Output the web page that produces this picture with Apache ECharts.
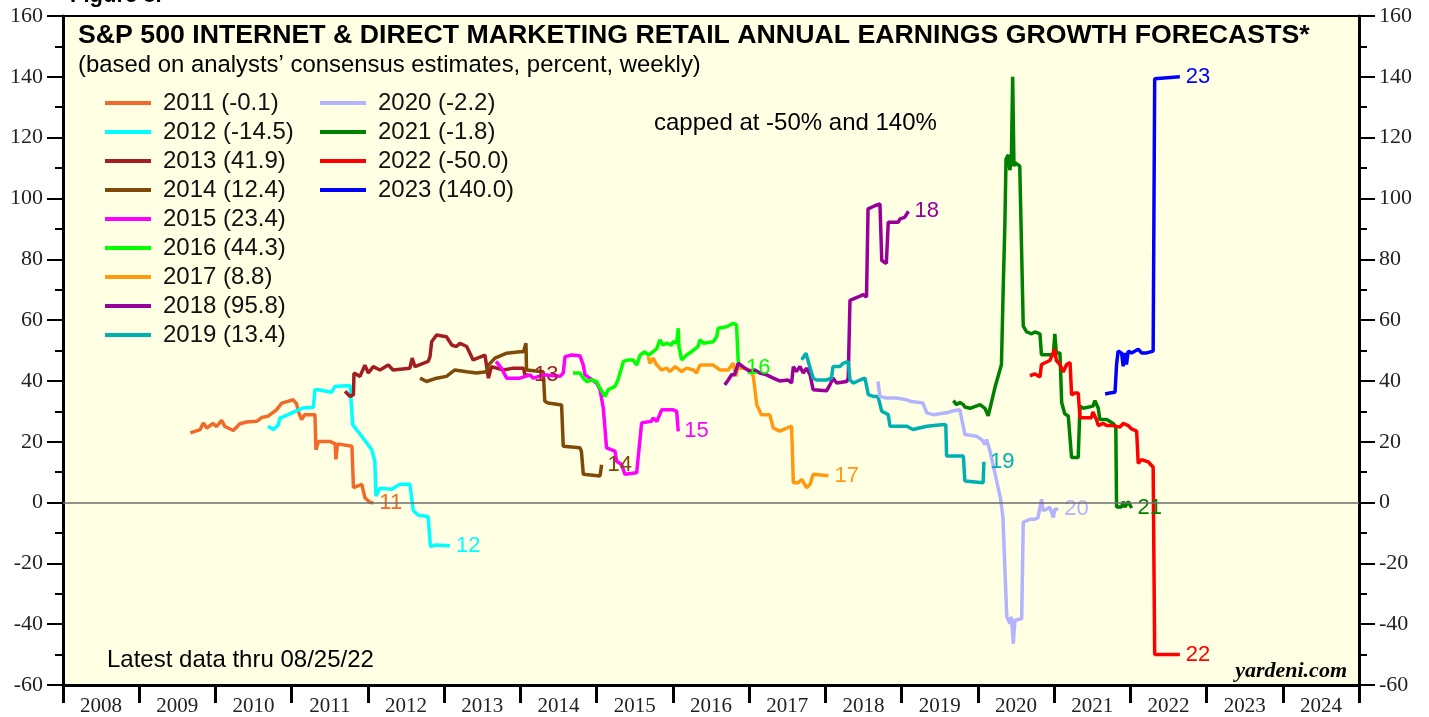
<!DOCTYPE html>
<html>
<head>
<meta charset="utf-8">
<script src="https://cdn.jsdelivr.net/npm/echarts@6/dist/echarts.min.js"></script>
<style>
  html, body { margin: 0; padding: 0; background: #fff; }
  #chart { width: 1429px; height: 717px; }
</style>
</head>
<body>
<div id="chart"></div>
<script>
// year axis labels (centred between the year ticks)
const years = ['2008','2009','2010','2011','2012','2013','2014','2015','2016','2017','2018','2019','2020','2021','2022','2023','2024']

// forecast years and latest value shown in the legend
const seriesNames = ['2011','2012','2013','2014','2015','2016','2017','2018','2019','2020','2021','2022','2023']
const finalValues = ['-0.1','-14.5','41.9','12.4','23.4','44.3','8.8','95.8','13.4','-2.2','-1.8','-50.0','140.0']
const colors = ['#f26a2a','#00ffff','#a31e22','#7f4a08','#ff00ff','#00ff00','#ff9a10','#990099','#00b0b0','#b3b3ff','#008000','#ff0000','#0000ff']

// weekly forecasts, [decimal year, percent]
const s2011 = [[2009.67,22.9],[2009.80,24.0],[2009.84,26.2],[2009.885,24.5],[2009.967,26.0],[2010.016,25.0],[2010.08,27.0],[2010.125,25.0],[2010.234,23.7],[2010.32,25.9],[2010.41,26.5],[2010.54,26.7],[2010.61,28.0],[2010.69,28.4],[2010.80,30.5],[2010.87,32.7],[2011.02,33.8],[2011.065,32.4],[2011.086,30.0],[2011.13,27.3],[2011.17,28.9],[2011.305,28.9],[2011.318,17.4],[2011.35,20.1],[2011.50,20.1],[2011.57,19.3],[2011.58,14.2],[2011.60,19.3],[2011.79,18.5],[2011.81,4.9],[2011.92,6.0],[2011.96,1.6],[2012.03,0.0],[2012.07,-0.1]]
const s2012 = [[2010.69,25.1],[2010.76,24.0],[2010.824,25.6],[2010.846,27.8],[2010.955,28.9],[2011.043,30.0],[2011.15,31.1],[2011.283,31.3],[2011.305,37.1],[2011.35,37.1],[2011.524,36.3],[2011.568,38.2],[2011.765,38.5],[2011.80,25.6],[2011.918,21.8],[2012.05,17.4],[2012.09,13.6],[2012.105,2.2],[2012.158,4.7],[2012.31,4.4],[2012.42,6.0],[2012.55,6.0],[2012.595,-2.7],[2012.66,-4.1],[2012.79,-4.7],[2012.82,-14.5],[2012.88,-14.0],[2013.076,-14.2]]
const s2013 = [[2011.70,36.6],[2011.765,34.9],[2011.81,35.5],[2011.817,42.6],[2011.896,41.5],[2011.96,45.2],[2012.005,42.6],[2012.07,44.7],[2012.158,43.6],[2012.267,45.2],[2012.33,43.6],[2012.55,44.2],[2012.58,47.5],[2012.617,44.7],[2012.79,46.4],[2012.814,48.0],[2012.836,52.9],[2012.90,55.1],[2013.03,54.5],[2013.10,51.8],[2013.16,51.3],[2013.207,52.4],[2013.295,51.3],[2013.38,46.9],[2013.535,48.5],[2013.58,40.9],[2013.62,44.7],[2013.775,43.6],[2013.906,44.2],[2014.04,44.2],[2014.06,42.0],[2014.10,41.9]]
const s2014 = [[2012.683,40.9],[2012.77,39.8],[2012.90,40.9],[2013.03,41.5],[2013.14,43.6],[2013.295,43.0],[2013.426,42.6],[2013.557,43.0],[2013.58,45.2],[2013.666,47.5],[2013.82,49.1],[2013.994,49.6],[2014.04,49.6],[2014.073,52.4],[2014.08,43.6],[2014.30,43.0],[2014.32,33.3],[2014.365,32.7],[2014.54,32.1],[2014.562,18.5],[2014.78,18.0],[2014.80,16.9],[2014.825,9.3],[2015.044,8.7],[2015.065,12.4]]
const s2015 = [[2013.68,46.4],[2013.75,44.2],[2013.82,40.9],[2013.994,40.9],[2014.125,42.0],[2014.169,40.9],[2014.30,42.0],[2014.52,41.5],[2014.562,42.6],[2014.585,48.0],[2014.672,48.5],[2014.78,48.3],[2014.825,45.2],[2014.847,42.0],[2015.0,39.3],[2015.044,37.1],[2015.087,31.1],[2015.13,18.0],[2015.24,16.9],[2015.262,13.6],[2015.328,12.5],[2015.37,9.3],[2015.525,9.8],[2015.546,10.4],[2015.59,26.2],[2015.72,26.7],[2015.74,27.8],[2015.79,26.7],[2015.853,30.5],[2016.005,30.5],[2016.05,30.0],[2016.07,23.4]]
const s2016 = [[2014.69,42.6],[2014.78,42.6],[2014.825,40.9],[2014.87,39.8],[2014.935,40.3],[2015.0,39.8],[2015.044,37.6],[2015.11,34.9],[2015.15,37.1],[2015.24,38.2],[2015.28,40.3],[2015.35,46.4],[2015.415,46.9],[2015.48,46.9],[2015.525,45.2],[2015.57,48.5],[2015.63,49.6],[2015.68,48.5],[2015.74,49.6],[2015.79,50.7],[2015.83,53.5],[2015.87,51.8],[2015.92,52.4],[2015.98,51.8],[2016.005,52.9],[2016.05,52.4],[2016.07,57.3],[2016.08,51.3],[2016.115,46.9],[2016.18,48.5],[2016.245,49.6],[2016.33,51.3],[2016.355,53.5],[2016.40,52.4],[2016.53,52.9],[2016.574,54.5],[2016.595,57.3],[2016.705,57.8],[2016.75,58.4],[2016.79,58.9],[2016.835,58.4],[2016.857,46.4],[2016.88,44.3]]
const s2017 = [[2015.677,48.0],[2015.70,45.8],[2015.74,47.5],[2015.79,45.2],[2015.853,43.6],[2015.92,44.2],[2015.96,43.1],[2016.03,44.7],[2016.115,43.1],[2016.18,44.2],[2016.27,43.6],[2016.31,42.6],[2016.355,45.2],[2016.53,45.2],[2016.617,43.6],[2016.726,43.6],[2016.79,45.8],[2016.83,41.5],[2016.845,44.2],[2016.92,44.2],[2017.01,43.6],[2017.055,41.5],[2017.10,32.2],[2017.16,28.9],[2017.27,28.9],[2017.317,24.5],[2017.40,23.5],[2017.557,25.1],[2017.58,6.5],[2017.644,6.5],[2017.69,7.6],[2017.754,4.9],[2017.80,6.0],[2017.84,9.3],[2018.04,8.8]]
const s2018 = [[2016.68,38.7],[2016.726,40.3],[2016.77,42.0],[2016.81,42.0],[2016.857,45.8],[2016.945,44.2],[2017.01,43.1],[2017.075,43.6],[2017.14,42.6],[2017.23,42.0],[2017.317,40.9],[2017.40,40.0],[2017.51,40.3],[2017.557,39.3],[2017.58,44.7],[2017.62,43.1],[2017.667,44.7],[2017.71,42.6],[2017.754,44.2],[2017.80,42.0],[2017.84,37.1],[2018.017,36.8],[2018.06,38.7],[2018.10,40.9],[2018.148,39.3],[2018.28,39.8],[2018.30,40.9],[2018.323,66.5],[2018.43,67.6],[2018.497,68.4],[2018.54,67.6],[2018.56,96.6],[2018.65,97.6],[2018.716,98.2],[2018.74,79.6],[2018.80,78.6],[2018.825,92.2],[2018.956,92.2],[2018.98,93.3],[2019.04,93.8],[2019.09,95.8]]
const s2019 = [[2017.69,46.9],[2017.746,49.1],[2017.776,46.4],[2017.84,40.9],[2017.885,40.3],[2018.017,40.3],[2018.08,40.9],[2018.10,44.7],[2018.19,44.7],[2018.235,45.8],[2018.30,46.4],[2018.323,40.3],[2018.366,39.3],[2018.455,40.3],[2018.52,40.9],[2018.563,35.5],[2018.63,34.9],[2018.69,34.9],[2018.74,30.0],[2018.825,28.9],[2018.848,25.1],[2019.067,25.1],[2019.15,24.0],[2019.33,25.1],[2019.525,25.6],[2019.58,25.6],[2019.59,15.3],[2019.81,15.3],[2019.83,7.1],[2020.07,6.5],[2020.08,13.4]]
const s2020 = [[2018.69,39.8],[2018.716,34.9],[2018.80,34.4],[2018.935,34.4],[2019.067,33.8],[2019.11,33.3],[2019.28,32.7],[2019.33,29.5],[2019.415,28.9],[2019.59,29.5],[2019.68,30.2],[2019.765,30.5],[2019.83,22.4],[2019.984,21.8],[2020.05,20.7],[2020.093,19.1],[2020.115,20.7],[2020.16,16.9],[2020.247,7.1],[2020.30,1.0],[2020.33,-5.0],[2020.36,-25.0],[2020.38,-37.6],[2020.42,-39.8],[2020.44,-37.6],[2020.465,-46.4],[2020.487,-38.7],[2020.575,-38.2],[2020.596,-6.5],[2020.683,-5.5],[2020.75,-5.5],[2020.79,-4.9],[2020.835,1.1],[2020.857,-2.7],[2020.90,-2.2],[2020.945,-1.6],[2020.99,-4.9],[2021.01,-2.2],[2021.055,-2.2]]
const s2021 = [[2019.68,33.5],[2019.72,32.2],[2019.765,32.9],[2019.81,32.2],[2019.83,31.4],[2019.897,31.0],[2020.03,32.2],[2020.093,31.0],[2020.137,28.5],[2020.16,31.0],[2020.225,37.9],[2020.268,41.7],[2020.31,45.4],[2020.333,70.5],[2020.355,91.7],[2020.37,113.0],[2020.40,114.3],[2020.42,109.3],[2020.44,113.0],[2020.457,140.0],[2020.474,110.6],[2020.487,111.8],[2020.55,110.6],[2020.575,110.0],[2020.596,58.0],[2020.64,56.1],[2020.706,55.5],[2020.75,56.1],[2020.815,55.5],[2020.835,48.6],[2020.99,48.6],[2021.01,55.5],[2021.03,49.2],[2021.077,49.2],[2021.10,32.9],[2021.12,33.5],[2021.14,29.2],[2021.186,28.5],[2021.23,14.8],[2021.317,14.8],[2021.34,31.7],[2021.383,31.0],[2021.51,31.7],[2021.536,33.5],[2021.58,31.0],[2021.60,27.3],[2021.69,27.3],[2021.776,26.0],[2021.81,24.8],[2021.82,-1.5],[2021.886,-1.5],[2021.907,0.3],[2021.93,-1.5],[2021.973,0.3],[2022.017,-1.8]]
const s2022 = [[2020.683,41.7],[2020.75,42.3],[2020.815,41.3],[2020.835,45.4],[2020.857,46.0],[2020.945,46.7],[2021.01,50.4],[2021.03,46.7],[2021.077,45.4],[2021.12,42.9],[2021.165,45.4],[2021.21,46.0],[2021.23,35.4],[2021.273,36.0],[2021.317,36.0],[2021.34,27.9],[2021.49,27.9],[2021.51,29.8],[2021.556,27.3],[2021.58,25.3],[2021.645,26.0],[2021.69,25.3],[2021.776,25.3],[2021.864,24.8],[2021.907,26.0],[2021.973,25.3],[2022.017,24.2],[2022.083,23.5],[2022.104,12.9],[2022.148,14.1],[2022.235,13.4],[2022.30,11.6],[2022.32,-50.0],[2022.65,-50.0]]
const s2023 = [[2021.67,35.7],[2021.73,36.0],[2021.80,36.3],[2021.82,45.4],[2021.84,49.8],[2021.886,49.2],[2021.907,44.8],[2021.93,49.2],[2021.95,45.4],[2021.973,49.8],[2022.017,49.2],[2022.104,50.4],[2022.148,49.2],[2022.214,49.2],[2022.30,49.8],[2022.32,139.4],[2022.65,140.0]]

const allData = [s2011,s2012,s2013,s2014,s2015,s2016,s2017,s2018,s2019,s2020,s2021,s2022,s2023]

let chart = echarts.init(document.getElementById('chart'), null, {renderer: 'canvas'})

let series = seriesNames.map(function (name, i) {
    let s = {
        name: name,
        type: 'line',
        data: allData[i],
        xAxisIndex: 0,
        yAxisIndex: 0,
        showSymbol: false,
        symbol: 'none',
        lineStyle: {color: colors[i], width: 3.5},
        itemStyle: {color: colors[i]},
        endLabel: {
            show: true,
            formatter: name.slice(2),
            color: colors[i],
            fontSize: 22,
            fontFamily: 'Liberation Sans',
            distance: 6
        }
    }
    if (i === 0) {
        // zero line
        s.markLine = {
            silent: true,
            symbol: 'none',
            label: {show: false},
            lineStyle: {color: '#6e6e6e', width: 1.5, type: 'solid'},
            data: [{yAxis: 0}]
        }
    }
    return s
})

const legendBase = {
    orient: 'vertical',
    top: 91,
    padding: 0,
    icon: 'rect',
    itemWidth: 46,
    itemHeight: 4,
    itemGap: 5,
    textStyle: {fontSize: 24, fontFamily: 'Liberation Sans', color: '#111', padding: [0, 0, 0, 7]},
    formatter: function (name) {
        return name + ' (' + finalValues[seriesNames.indexOf(name)] + ')'
    }
}

const yAxisBase = {
    type: 'value',
    min: -60,
    max: 160,
    interval: 20,
    axisLine: {show: true, lineStyle: {color: '#000', width: 3}},
    axisTick: {show: true, length: 16, lineStyle: {color: '#000', width: 2}},
    minorTick: {show: true, splitNumber: 2, length: 8, lineStyle: {color: '#000', width: 2}},
    splitLine: {show: false},
    axisLabel: {fontSize: 22, fontFamily: 'Liberation Serif', color: '#222', margin: 20}
}

let option = {
    animation: false,
    backgroundColor: '#ffffff',
    color: colors,
    grid: {
        left: 63, right: 70, top: 16, bottom: 29,
        show: true,
        backgroundColor: '#ffffe3',
        borderColor: '#000',
        borderWidth: 2
    },
    legend: [
        Object.assign({}, legendBase, {left: 105, data: seriesNames.slice(0, 9)}),
        Object.assign({}, legendBase, {left: 320, data: seriesNames.slice(9)})
    ],
    xAxis: [
        {
            type: 'value', min: 2008, max: 2025, show: false
        },
        {
            type: 'category',
            data: years,
            position: 'bottom',
            boundaryGap: true,
            axisLine: {show: true, onZero: false, lineStyle: {color: '#000', width: 3}},
            axisTick: {show: true, length: 18, lineStyle: {color: '#000', width: 3}},
            axisLabel: {fontSize: 21, fontFamily: 'Liberation Serif', color: '#222', margin: 11},
            splitLine: {show: false}
        }
    ],
    yAxis: [
        Object.assign({}, yAxisBase, {position: 'left'}),
        Object.assign({}, yAxisBase, {position: 'right'})
    ],
    graphic: [
        {type: 'text', left: 70, top: -15, style: {text: 'Figure 8.', font: 'bold 22px "Liberation Sans"', fill: '#000'}},
        {type: 'text', left: 78, top: 22, style: {text: 'S&P 500 INTERNET & DIRECT MARKETING RETAIL ANNUAL EARNINGS GROWTH FORECASTS*', font: 'bold 26.7px "Liberation Sans"', fill: '#000'}},
        {type: 'text', left: 78, top: 53, style: {text: '(based on analysts\u2019 consensus estimates, percent, weekly)', font: '23.9px "Liberation Sans"', fill: '#000'}},
        {type: 'text', left: 654, top: 111, style: {text: 'capped at -50% and 140%', font: '24px "Liberation Sans"', fill: '#000'}},
        {type: 'text', left: 107, top: 648, style: {text: 'Latest data thru 08/25/22', font: '24px "Liberation Sans"', fill: '#000'}},
        {type: 'text', right: 82, top: 660, style: {text: 'yardeni.com', font: 'italic bold 22px "Liberation Serif"', fill: '#000'}}
    ],
    series: series
}

chart.setOption(option)
</script>
</body>
</html>
